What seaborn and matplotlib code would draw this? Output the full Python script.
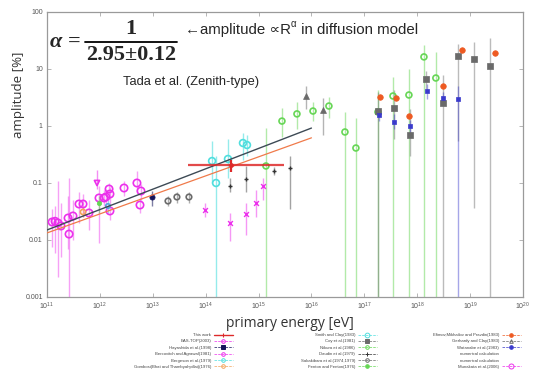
import matplotlib
matplotlib.use("Agg")
import matplotlib.pyplot as plt
from matplotlib.lines import Line2D
import seaborn as sns

# ---------------------------------------------------------------- data
# energies in eV, amplitudes in %, error ranges as (low, high) amplitude
mun_E = [1.25e11, 1.42e11, 1.61e11, 1.84e11, 2.50e11, 2.61e11, 3.10e11, 4.03e11, 4.80e11, 6.22e11,
         9.62e11, 1.20e12, 1.30e12, 1.49e12, 1.55e12, 1.55e12, 2.86e12, 5.02e12, 5.98e12, 5.73e12]
mun_A = [0.0207, 0.0213, 0.0199, 0.0176, 0.0243, 0.0127, 0.0264, 0.0428, 0.0428, 0.0298,
         0.0546, 0.0546, 0.0568, 0.0785, 0.0641, 0.0323, 0.0817, 0.100, 0.0724, 0.0411]
mun_lo = [0.0075, 0.006, 0.0022, 0.005, 0.007, 0.001, 0.010, 0.020, 0.025, 0.015,
          0.009, 0.040, 0.040, 0.060, 0.045, 0.022, 0.060, 0.070, 0.050, 0.030]
mun_hi = [0.035, 0.040, 0.110, 0.045, 0.060, 0.120, 0.050, 0.070, 0.065, 0.050,
          0.090, 0.075, 0.080, 0.100, 0.085, 0.045, 0.110, 0.160, 0.095, 0.055]

berc_E, berc_A, berc_lo, berc_hi = [8.81e11], [0.100], [0.080], [0.170]
gomb_E, gomb_A, gomb_lo, gomb_hi = [4.80e11], [0.031], [0.025], [0.040]
fent_E, fent_A, fent_lo, fent_hi = [9.62e11], [0.0445], [0.030], [0.060]
berg_E, berg_A, berg_lo, berg_hi = [1.42e12], [0.0395], [0.030], [0.050]
haya_E, haya_A, haya_lo, haya_hi = [9.66e12], [0.0568], [0.040], [0.072]

saka_E = [1.94e13, 2.86e13, 4.83e13]
saka_A = [0.0483, 0.0568, 0.0568]
saka_lo = [0.040, 0.045, 0.045]
saka_hi = [0.058, 0.070, 0.070]

eas_E = [9.70e13, 2.88e14, 5.78e14, 8.93e14, 1.21e15]
eas_A = [0.0336, 0.0199, 0.0286, 0.0445, 0.0886]
eas_lo = [0.025, 0.0095, 0.012, 0.025, 0.050]
eas_hi = [0.045, 0.030, 0.045, 0.075, 0.120]

smith_E = [1.32e14, 1.57e14, 2.64e14, 5.07e14, 6.04e14]
smith_A = [0.243, 0.100, 0.264, 0.503, 0.464]
smith_lo = [0.10, 0.001, 0.12, 0.25, 0.30]
smith_hi = [0.55, 0.30, 0.60, 0.75, 0.70]

daud_E = [2.88e14, 5.78e14, 1.95e15, 3.93e15]
daud_A = [0.0886, 0.1175, 0.162, 0.183]
daud_lo = [0.070, 0.070, 0.140, 0.035]
daud_hi = [0.120, 0.200, 0.190, 0.300]

nik_E = [1.38e15, 2.77e15, 5.32e15, 1.07e16, 2.14e16, 4.30e16, 6.93e16, 1.81e17, 3.48e17,
         6.97e17, 1.34e18, 2.25e18]
nik_A = [0.199, 1.22, 1.63, 1.83, 2.24, 0.785, 0.411, 1.76, 3.36, 3.50, 16.3, 6.95]
nik_lo = [0.001, 0.65, 0.90, 1.20, 1.40, 0.001, 0.001, 0.001, 0.001, 0.001, 0.001, 0.001]
nik_hi = [0.92, 2.10, 2.60, 2.60, 3.20, 1.76, 1.40, 4.30, 7.20, 10.0, 26.0, 20.0]

gerh_E = [7.87e15, 1.65e16]
gerh_A = [3.36, 1.91]
gerh_lo = [2.0, 0.7]
gerh_hi = [5.0, 3.1]

efim_E = [1.97e17, 3.95e17, 6.97e17, 3.06e18, 7.00e18, 2.94e19]
efim_A = [3.23, 3.10, 1.50, 5.04, 21.5, 19.1]

coy_E = [1.81e17, 3.63e17, 7.28e17, 1.46e18, 3.06e18, 5.88e18, 1.18e19, 2.37e19]
coy_A = [1.80, 2.07, 0.695, 6.68, 2.53, 16.9, 15.0, 11.3]
coy_lo = [0.001, 0.60, 0.30, 4.50, 0.001, 0.55, 0.037, 0.001]
coy_hi = [4.0, 4.3, 2.0, 9.4, 7.8, 28.0, 30.0, 35.0]

wat_E = [1.88e17, 3.63e17, 7.28e17, 1.52e18, 3.06e18, 5.88e18]
wat_A = [1.56, 1.17, 1.00, 4.11, 3.10, 2.98]
wat_lo = [1.20, 0.90, 0.70, 3.00, 2.30, 0.001]
wat_hi = [2.00, 1.60, 1.30, 5.50, 4.00, 5.00]

this_E, this_A = [3.0e14], [0.207]
this_Emin, this_Emax = [4.7e13], [3.0e15]
this_lo, this_hi = [0.156], [0.25]

fit_E = [1e11, 1e16]
fit_black = [0.015, 0.92]
fit_orange = [0.0133, 0.62]

x_ticks = [1e11, 1e12, 1e13, 1e14, 1e15, 1e16, 1e17, 1e18, 1e19, 1e20]
y_ticks = [1e-3, 1e-2, 1e-1, 1, 10, 100]
y_ticklabels = ["0.001", "0.01", "0.1", "1", "10", "100"]

legend_cols = [
    ["This work", "EAS-TOP(2003)", "Hayashida et al.(1998)", "Bercovitch and Agrawal(1981)",
     "Bergeson et al.(1979)", "Gombosi(Bhat and Thambyahpillai)(1976)"],
    ["Smith and Clay(1983)", "Coy et al.(1981)", "Nikura et al.(1986)", "Daudin et al.(1979)",
     "Sakakibara et al.(1974,1979)", "Fenton and Fenton(1976)"],
    ["Efimov,Mikhailov and Pravdin(1983)", "Gerhardy and Clay(1983)", "Watanabe et al.(1983)",
     "numerical calculation", "numerical calculation", "Munakata et al.(2006)"],
]

# ---------------------------------------------------------------- colours
MAG = "#ec30ec"
CYAN = "#4fdede"
GREEN = "#66d655"
GREY = "#6a6a6a"
NAVY = "#14145a"
ORANGE = "#f2a35a"
RED_OR = "#ee5a22"
BLUE = "#3a3acc"
RED = "#dd2a2a"

# ---------------------------------------------------------------- figure
sns.set_theme(style="ticks")
plt.rcParams["font.family"] = ["Liberation Sans", "DejaVu Sans"]

fig = plt.figure(figsize=(5.35, 3.79), dpi=100)
ax = fig.add_axes([47 / 535, 1 - 297 / 379, 476 / 535, 285 / 379])
ax.set_xscale("log")
ax.set_yscale("log")
ax.set_xlim(1e11, 1e20)
ax.set_ylim(1e-3, 1e2)


def draw(E, A, lo, hi, color, marker, size, style, err_alpha=0.55, err_lw=1.0):
    if lo is not None:
        ax.vlines(E, lo, hi, color=color, lw=err_lw, alpha=err_alpha, zorder=2)
    if style == "open":
        sns.scatterplot(x=E, y=A, ax=ax, marker=marker, s=size, color=color,
                        facecolor="none", edgecolor=color, linewidth=1.2, zorder=3, legend=False)
    elif style == "line":
        sns.scatterplot(x=E, y=A, ax=ax, marker=marker, s=size, color=color,
                        linewidth=1.0, zorder=3, legend=False)
    else:
        sns.scatterplot(x=E, y=A, ax=ax, marker=marker, s=size, color=color,
                        edgecolor=color, linewidth=0.5, zorder=3, legend=False)


draw(mun_E, mun_A, mun_lo, mun_hi, MAG, "o", 28, "open", err_alpha=0.45)
draw(berc_E, berc_A, berc_lo, berc_hi, MAG, "v", 14, "open")
draw(gomb_E, gomb_A, gomb_lo, gomb_hi, ORANGE, "o", 14, "open")
draw(fent_E, fent_A, fent_lo, fent_hi, GREEN, "o", 10, "filled")
draw(berg_E, berg_A, berg_lo, berg_hi, "#55aadd", "o", 10, "open")
draw(haya_E, haya_A, haya_lo, haya_hi, NAVY, "o", 14, "filled")
draw(saka_E, saka_A, saka_lo, saka_hi, GREY, "o", 16, "open")
draw(eas_E, eas_A, eas_lo, eas_hi, MAG, "x", 12, "line", err_alpha=0.5)
draw(smith_E, smith_A, smith_lo, smith_hi, CYAN, "o", 24, "open", err_alpha=0.6)
draw(daud_E, daud_A, daud_lo, daud_hi, "#333333", "+", 12, "line", err_alpha=0.45)
draw(nik_E, nik_A, nik_lo, nik_hi, GREEN, "o", 18, "open", err_alpha=0.5)
draw(gerh_E, gerh_A, gerh_lo, gerh_hi, GREY, "^", 18, "filled", err_alpha=0.5)
draw(coy_E, coy_A, coy_lo, coy_hi, GREY, "s", 14, "filled", err_alpha=0.45)
draw(wat_E, wat_A, wat_lo, wat_hi, BLUE, "s", 9, "filled", err_alpha=0.45)
draw(efim_E, efim_A, None, None, RED_OR, "o", 16, "filled")

# fitted power laws
sns.lineplot(x=fit_E, y=fit_black, ax=ax, color="#3d4a55", lw=1.0, zorder=4)
sns.lineplot(x=fit_E, y=fit_orange, ax=ax, color="#f07a4a", lw=0.9, zorder=4)

# this work: energy range and amplitude error
ax.hlines(this_A, this_Emin, this_Emax, color=RED, lw=1.6, alpha=0.85, zorder=5)
ax.vlines(this_E, this_lo, this_hi, color=RED, lw=1.6, zorder=5)
sns.scatterplot(x=this_E, y=this_A, ax=ax, s=10, color=RED, edgecolor=RED, zorder=6, legend=False)

# ---------------------------------------------------------------- axes styling
ax.set_xticks(x_ticks)
ax.set_yticks(y_ticks)
ax.set_yticklabels(y_ticklabels)
ax.minorticks_off()
ax.tick_params(which="both", direction="in", length=3, width=0.6, color="#aaaaaa",
               labelsize=5, labelcolor="#555555", top=True, right=True, pad=3)
for sp in ax.spines.values():
    sp.set_color("#9a9a9a")
    sp.set_linewidth(0.9)

ax.set_xlabel("primary energy [eV]", fontsize=10, color="#333333", family=["Open Sans", "DejaVu Sans"])
ax.xaxis.set_label_coords(0.51, -0.065)
ax.set_ylabel("amplitude [%]", fontsize=9.5, color="#333333", family=["Open Sans", "DejaVu Sans"])
ax.yaxis.set_label_coords(-0.047, 0.71)

# ---------------------------------------------------------------- formula and notes
serif = ["Liberation Serif", "DejaVu Serif"]
fig.text(50 / 535, 1 - 42 / 379, "α =", fontsize=16, fontweight="bold", style="italic",
         family=serif, va="center", ha="left")
fig.text(131 / 535, 1 - 29 / 379, "1", fontsize=16, fontweight="bold", family=serif,
         va="center", ha="center")
fig.add_artist(Line2D([85 / 535, 177 / 535], [1 - 41.5 / 379, 1 - 41.5 / 379],
                      color="black", lw=1.3, transform=fig.transFigure))
fig.text(131 / 535, 1 - 55 / 379, "2.95±0.12", fontsize=16, fontweight="bold", family=serif,
         va="center", ha="center")

sans = ["Liberation Sans", "DejaVu Sans"]
t1 = fig.text(185 / 535, 1 - 30 / 379, "←amplitude ∝R", fontsize=10.8, va="center", ha="left",
              family=sans)
t2 = ax.annotate("α", xy=(1, 0.6), xycoords=t1, fontsize=7, va="bottom", ha="left", family=sans)
ax.annotate(" in diffusion model", xy=(1, 0.5), xycoords=(t2, t1), fontsize=10.8,
            va="center", ha="left", family=sans)
fig.text(123 / 535, 1 - 82 / 379, "Tada et al. (Zenith-type)", fontsize=9.3, va="center",
         ha="left", family=sans)

# ---------------------------------------------------------------- legends


def handle(color, marker, filled=False, ms=2.6, visible=True):
    if not visible:
        return Line2D([], [], linestyle="none", marker="none")
    return Line2D([], [], color=color, ls="--", lw=0.5, marker=marker, ms=ms,
                  mfc=color if filled else "none", mec=color, mew=0.7)


col_handles = [
    [Line2D([], [], color=RED, lw=1.0, marker="|", ms=3, mew=0.8),
     handle(MAG, "o"), handle(NAVY, "s", True), handle(MAG, "o"), handle(CYAN, "o"),
     handle(ORANGE, "o")],
    [handle(CYAN, "o", ms=3.4), handle(GREY, "s", True), handle(GREEN, "o"),
     handle("#333333", "+"), handle(GREY, "o"), handle(GREEN, "o", True)],
    [handle(RED_OR, "o", True), handle(GREY, "^"), handle(BLUE, "o", True),
     handle(None, None, visible=False), handle(None, None, visible=False),
     handle(MAG, "o", ms=3.6)],
]
anchors = [(233 / 535, 1 - 333 / 379), (377 / 535, 1 - 333 / 379), (521 / 535, 1 - 333 / 379)]
for hs, labels, anc in zip(col_handles, legend_cols, anchors):
    fig.legend(hs, labels, loc="upper right", bbox_to_anchor=anc, frameon=False,
               fontsize=3.1, markerfirst=False, handlelength=4.5, labelspacing=0.55,
               handletextpad=0.6, borderaxespad=0, borderpad=0, labelcolor="#444444")

fig.savefig("out.png", dpi=100)
